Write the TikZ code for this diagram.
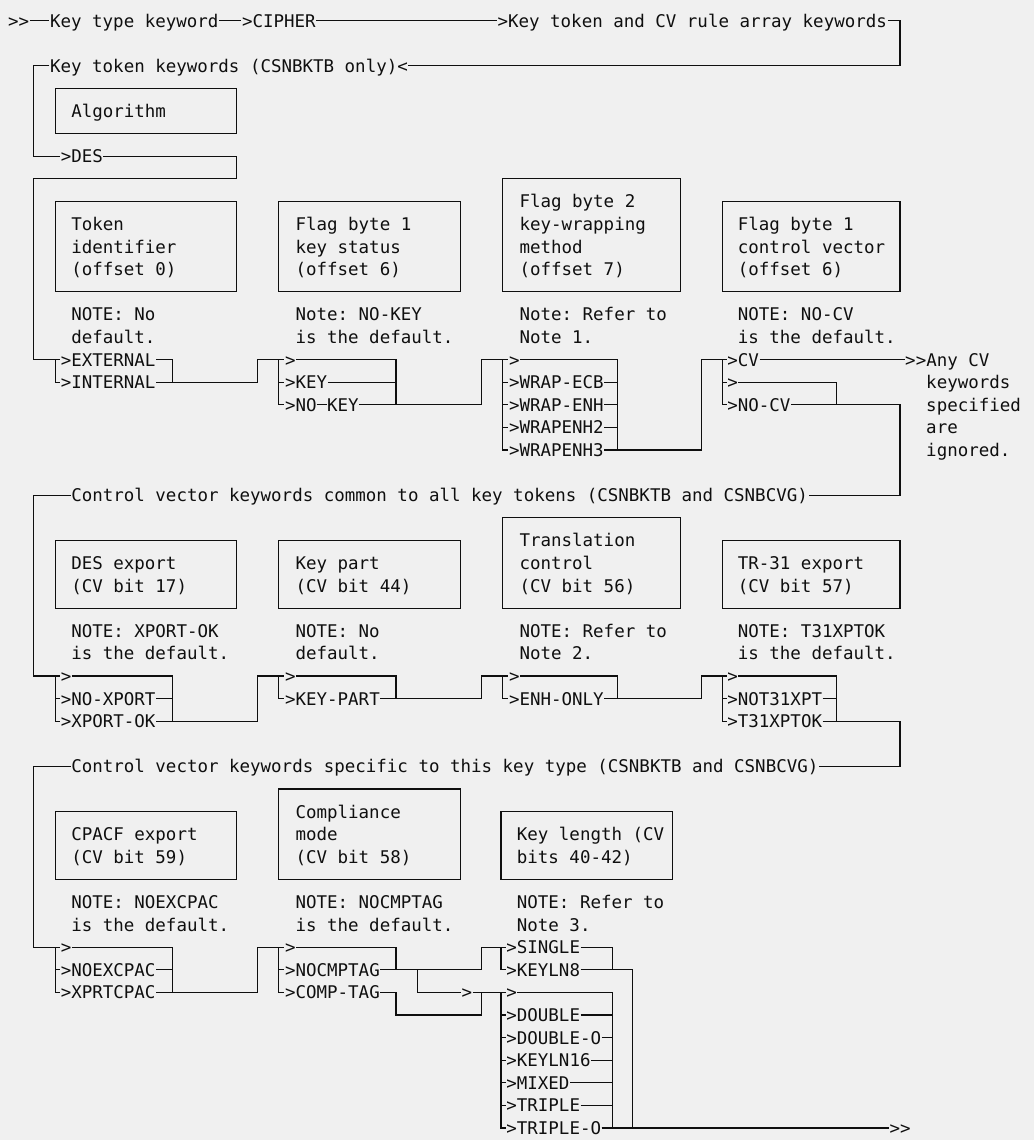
\documentclass[tikz,border=0pt]{standalone}
\usepackage{fontspec}
\newfontfamily\diagfont{DejaVu Sans Mono}
\definecolor{ink}{RGB}{15,15,15}
\definecolor{paper}{RGB}{240,240,240}

\begin{document}
\begin{tikzpicture}[x=0.5pt, y=-11.3pt, line width=0.6pt, color=ink,
    lbl/.style={anchor=west, inner sep=0pt, text height=6.4pt, text depth=0pt,
        font=\diagfont\fontsize{8.74}{10}\selectfont\frenchspacing}]
    \fill[paper] (0,-0.916) rectangle (1034,49.53);
    \useasboundingbox (0,-0.916) rectangle (1034,49.53);

    % entry line
    \node[lbl] (start) at (7.5,0) {>>};
    \node[lbl] (ktk) at (49.5,0) {Key type keyword};
    \node[lbl] (cipher) at (241.5,0) {>CIPHER};
    \node[lbl] (rulekw) at (497,0) {>Key token and CV rule array keywords};
    \draw (start) -- (ktk);
    \draw (ktk) -- (cipher);
    \draw (cipher) -- (rulekw);
    \node[lbl] (tokkw) at (49.5,2) {Key token keywords (CSNBKTB only)<};
    \draw (rulekw.east) -| (900,2) -- (tokkw.east);

    % algorithm
    \draw (55.5,3) rectangle (236.7,5);
    \node[lbl] (alg) at (70.7,4) {Algorithm};
    \node[lbl] (des) at (60.2,6) {>DES};
    \draw (tokkw.west) -| (33.3,6) -- (des.west);

    % key token fields
    \draw (55.5,8) rectangle (236.7,12);
    \draw (278.3,8) rectangle (460.7,12);
    \draw (502.7,7) rectangle (680.7,12);
    \draw (722.3,8) rectangle (900,12);
    \foreach \t [count=\i from 9] in {Token,identifier,(offset 0)}
        \node[lbl] (tid\i) at (70.7,\i) {\t};
    \foreach \t [count=\i from 9] in {Flag byte 1,key status,(offset 6)}
        \node[lbl] (kst\i) at (295,\i) {\t};
    \foreach \t [count=\i from 8] in {Flag byte 2,key-wrapping,method,(offset 7)}
        \node[lbl] (kwm\i) at (519,\i) {\t};
    \foreach \t [count=\i from 9] in {Flag byte 1,control vector,(offset 6)}
        \node[lbl] (cvf\i) at (737.3,\i) {\t};
    \foreach \x/\a/\b [count=\k] in {70.7/NOTE: No/default.,295/Note: NO-KEY/is the default.,519/Note: Refer to/Note 1.,737.3/NOTE: NO-CV/is the default.} {
        \node[lbl] (ntA\k) at (\x,13) {\a};
        \node[lbl] (ntB\k) at (\x,14) {\b};
    }

    \node[lbl] (ext) at (60.2,15) {>EXTERNAL};
    \node[lbl] (int) at (60.2,16) {>INTERNAL};
    \draw (des.east) -| (236.7,7) -| (33.3,15) -- (ext.west);
    \draw (55.5,15) |- (int.west);
    \draw (ext.east) -| (172.7,16);

    \node[lbl] (kz) at (284.5,15) {>};
    \node[lbl] (key) at (284.5,16) {>KEY};
    \node[lbl] (nokey) at (284.5,17) {>NO\rule[2.9pt]{5.26pt}{0.6pt}KEY};
    \draw (int.east) -| (257.3,15) -- (kz.west);
    \draw (278.3,15) |- (nokey.west);
    \draw (278.3,16) -- (key.west);
    \draw (kz.east) -| (396,17);
    \draw (key.east) -- (396,16);

    \node[lbl] (wz) at (508.5,15) {>};
    \foreach \t [count=\i from 16] in {WRAP-ECB,WRAP-ENH,WRAPENH2,WRAPENH3} {
        \node[lbl] (wr\i) at (508.5,\i) {>\t};
        \draw (wr\i.east) -- (617.3,\i);
    }
    \draw (nokey.east) -| (481.7,15) -- (wz.west);
    \draw (502.7,15) |- (wr19.west);
    \foreach \i in {16,17,18} \draw (502.7,\i) -- (wr\i.west);
    \draw (wz.east) -| (617.3,19);

    \node[lbl] (cv) at (726.8,15) {>CV};
    \node[lbl] (cvz) at (726.8,16) {>};
    \node[lbl] (nocv) at (726.8,17) {>NO-CV};
    \draw (wr19.east) -| (701.7,15) -- (cv.west);
    \draw (722.3,15) |- (nocv.west);
    \draw (722.3,16) -- (cvz.west);
    \draw (cvz.east) -| (836.7,17);
    \node[lbl] (anycv) at (904.7,15) {>>Any CV};
    \foreach \t [count=\i from 16] in {keywords,specified,are,ignored.}
        \node[lbl] (ign\i) at (925.7,\i) {\t};
    \draw (cv) -- (anycv);

    % common control vector keywords
    \node[lbl] (ctla) at (70.7,21) {Control vector keywords common to all key tokens (CSNBKTB and CSNBCVG)};
    \draw (nocv.east) -| (900,21) -- (ctla.east);
    \draw (55.5,23) rectangle (236.7,26);
    \draw (278.3,23) rectangle (460.7,26);
    \draw (502.7,22) rectangle (680.7,26);
    \draw (722.3,23) rectangle (900,26);
    \foreach \t [count=\i from 24] in {DES export,(CV bit 17)}
        \node[lbl] (dex\i) at (70.7,\i) {\t};
    \foreach \t [count=\i from 24] in {Key part,(CV bit 44)}
        \node[lbl] (kpt\i) at (295,\i) {\t};
    \foreach \t [count=\i from 23] in {Translation,control,(CV bit 56)}
        \node[lbl] (trc\i) at (519,\i) {\t};
    \foreach \t [count=\i from 24] in {TR-31 export,(CV bit 57)}
        \node[lbl] (tre\i) at (737.3,\i) {\t};
    \foreach \x/\a/\b [count=\k] in {70.7/NOTE: XPORT-OK/is the default.,295/NOTE: No/default.,519/NOTE: Refer to/Note 2.,737.3/NOTE: T31XPTOK/is the default.} {
        \node[lbl] (nuA\k) at (\x,27) {\a};
        \node[lbl] (nuB\k) at (\x,28) {\b};
    }

    \node[lbl] (xz) at (60.2,29) {>};
    \node[lbl] (noxp) at (60.2,30) {>NO-XPORT};
    \node[lbl] (xpok) at (60.2,31) {>XPORT-OK};
    \draw (ctla.west) -| (33.3,29) -- (xz.west);
    \draw (55.5,29) |- (xpok.west);
    \draw (55.5,30) -- (noxp.west);
    \draw (xz.east) -| (172.7,31);
    \draw (noxp.east) -- (172.7,30);

    \node[lbl] (kpz) at (284.5,29) {>};
    \node[lbl] (kpart) at (284.5,30) {>KEY-PART};
    \draw (xpok.east) -| (257.3,29) -- (kpz.west);
    \draw (278.3,29) |- (kpart.west);
    \draw (kpz.east) -| (396,30);

    \node[lbl] (ez) at (508.5,29) {>};
    \node[lbl] (enh) at (508.5,30) {>ENH-ONLY};
    \draw (kpart.east) -| (481.7,29) -- (ez.west);
    \draw (502.7,29) |- (enh.west);
    \draw (ez.east) -| (617.3,30);

    \node[lbl] (tz) at (726.8,29) {>};
    \node[lbl] (not31) at (726.8,30) {>NOT31XPT};
    \node[lbl] (t31ok) at (726.8,31) {>T31XPTOK};
    \draw (enh.east) -| (701.7,29) -- (tz.west);
    \draw (722.3,29) |- (t31ok.west);
    \draw (722.3,30) -- (not31.west);
    \draw (tz.east) -| (836.7,31);
    \draw (not31.east) -- (836.7,30);

    % key type specific control vector keywords
    \node[lbl] (ctlb) at (70.7,33) {Control vector keywords specific to this key type (CSNBKTB and CSNBCVG)};
    \draw (t31ok.east) -| (900,33) -- (ctlb.east);
    \draw (55.5,35) rectangle (236.7,38);
    \draw (278.3,34) rectangle (460.7,38);
    \draw (501,35) rectangle (672.7,38);
    \foreach \t [count=\i from 36] in {CPACF export,(CV bit 59)}
        \node[lbl] (cpx\i) at (70.7,\i) {\t};
    \foreach \t [count=\i from 35] in {Compliance,mode,(CV bit 58)}
        \node[lbl] (cmm\i) at (295,\i) {\t};
    \foreach \t [count=\i from 36] in {Key length (CV,bits 40-42)}
        \node[lbl] (kln\i) at (516.3,\i) {\t};
    \foreach \x/\a/\b [count=\k] in {70.7/NOTE: NOEXCPAC/is the default.,295/NOTE: NOCMPTAG/is the default.,516.3/NOTE: Refer to/Note 3.} {
        \node[lbl] (nsA\k) at (\x,39) {\a};
        \node[lbl] (nsB\k) at (\x,40) {\b};
    }

    \node[lbl] (cpz) at (60.2,41) {>};
    \node[lbl] (noexc) at (60.2,42) {>NOEXCPAC};
    \node[lbl] (xprt) at (60.2,43) {>XPRTCPAC};
    \draw (ctlb.west) -| (33.3,41) -- (cpz.west);
    \draw (55.5,41) |- (xprt.west);
    \draw (55.5,42) -- (noexc.west);
    \draw (cpz.east) -| (172.7,43);
    \draw (noexc.east) -- (172.7,42);

    \node[lbl] (cmz) at (284.5,41) {>};
    \node[lbl] (nocmp) at (284.5,42) {>NOCMPTAG};
    \node[lbl] (comp) at (284.5,43) {>COMP-TAG};
    \draw (xprt.east) -| (257.3,41) -- (cmz.west);
    \draw (278.3,41) |- (comp.west);
    \draw (278.3,42) -- (nocmp.west);
    \draw (cmz.east) -| (396,42);

    \node[lbl] (single) at (505.8,41) {>SINGLE};
    \node[lbl] (kl8) at (505.8,42) {>KEYLN8};
    \node[lbl] (skip) at (461,43) {>};
    \node[lbl] (dz) at (505.8,43) {>};
    \draw (nocmp.east) -| (481.7,41) -- (single.west);
    \draw (417.3,42) |- (skip.west);
    \draw (skip) -- (dz);
    \draw (comp.east) -| (396,44) -| (481.7,43);
    \draw (501,41) |- (kl8.west);
    \draw (single.east) -| (612.7,42);
    \draw (kl8.east) -| (632.7,49);

    \foreach \t [count=\i from 44] in {DOUBLE,DOUBLE-O,KEYLN16,MIXED,TRIPLE,TRIPLE-O} {
        \node[lbl] (kl\i) at (505.8,\i) {>\t};
        \draw (kl\i.east) -- (612.7,\i);
    }
    \draw (501,43) |- (kl49.west);
    \foreach \i in {44,...,48} \draw (501,\i) -- (kl\i.west);
    \draw (dz.east) -| (612.7,49);
    \node[lbl] (stop) at (889,49) {>>};
    \draw (kl49) -- (stop);
\end{tikzpicture}
\end{document}
